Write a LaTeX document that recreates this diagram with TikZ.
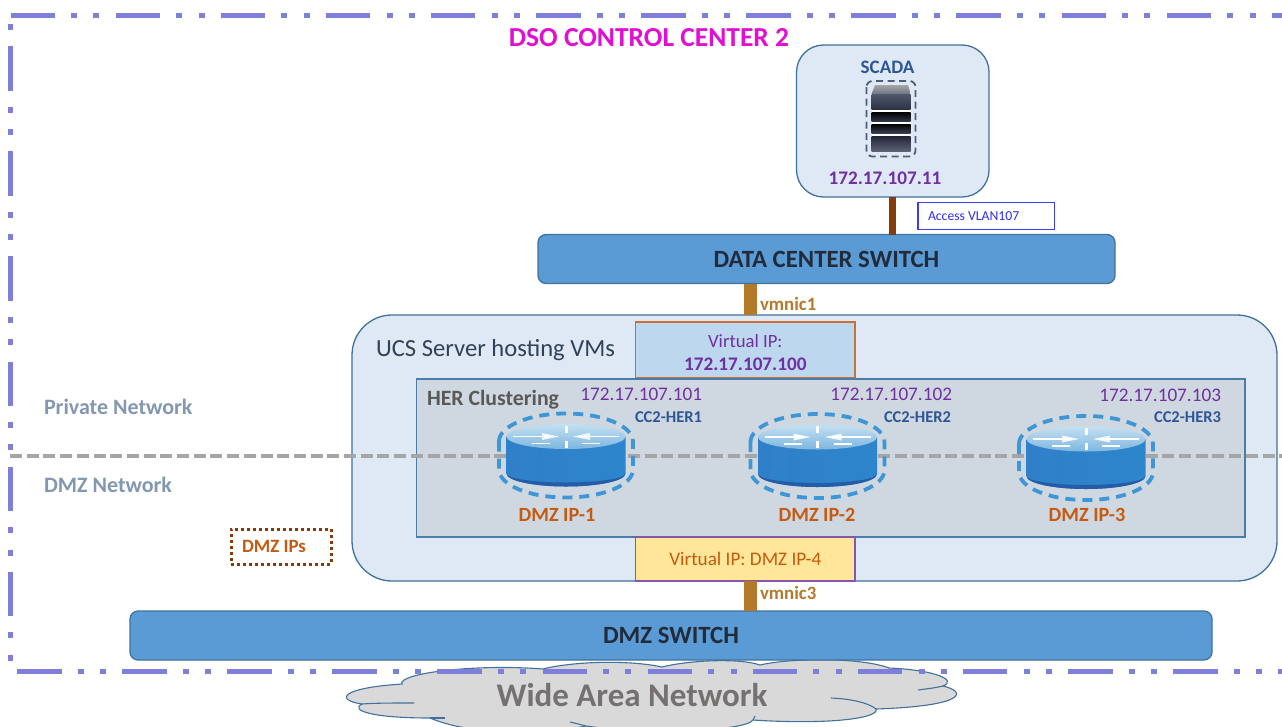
\documentclass[tikz,border=0pt]{standalone}
\usepackage{fontspec}
\setmainfont{Carlito}
\newcommand\fsz[1]{\fontsize{#1}{#1}\selectfont}
\definecolor{edgeblue}{HTML}{41719C}
\definecolor{boxfill}{HTML}{DEE9F5}
\definecolor{switchblue}{HTML}{5B9BD5}
\definecolor{borderpurple}{HTML}{7F7FDB}
\definecolor{purpletext}{HTML}{7030A0}
\definecolor{orangetext}{HTML}{C55A11}
\definecolor{navytext}{HTML}{2F5597}
\definecolor{nicbrown}{HTML}{B27A2A}
\definecolor{darkbrown}{HTML}{843C0C}
\definecolor{hergrey}{HTML}{CFD8E0}
\definecolor{netgrey}{HTML}{8497B0}
\definecolor{ringblue}{HTML}{3E96D6}
\definecolor{rsideL}{HTML}{2F80C8}
\definecolor{rsideM}{HTML}{5AA0D8}
\definecolor{rsideR}{HTML}{2D85CC}
\definecolor{rbase}{HTML}{245CA8}
\definecolor{rtopA}{HTML}{C4E0F2}
\definecolor{rtopB}{HTML}{7DB6E0}
\definecolor{magentatitle}{HTML}{E10FD4}
\definecolor{srvA}{HTML}{6E7487}
\definecolor{srvB}{HTML}{50586E}
\definecolor{srvC}{HTML}{2D3244}
\definecolor{srvD}{HTML}{32374B}
\definecolor{srvE}{HTML}{3C4155}
\definecolor{srvF}{HTML}{232637}
\definecolor{srvG}{HTML}{5F6478}
\definecolor{srvdash}{HTML}{505C78}
\definecolor{vlanblue}{HTML}{3C3CF5}
\definecolor{vlantext}{HTML}{2D2DEB}
\definecolor{ucstext}{HTML}{324155}
\definecolor{vipedge}{HTML}{C8703A}
\definecolor{vipfill}{HTML}{BDD7EE}
\definecolor{heredge}{HTML}{4C7DA8}
\definecolor{vipdedge}{HTML}{8A55A8}
\definecolor{vipdfill}{HTML}{FFE699}
\definecolor{switchtext}{HTML}{222B3A}
\definecolor{wantext}{HTML}{767171}
\tikzset{
  x=1pt,y=-1pt,
  lab/.style={inner sep=0pt,outer sep=0pt},
  boxshape/.style={draw,inner sep=0pt,outer sep=0pt,line width=1.3pt},
  roundbox/.style={boxshape,draw=edgeblue,fill=boxfill},
  switchbox/.style={boxshape,draw=edgeblue,fill=switchblue,rounded corners=8pt,text=switchtext,font=\bfseries\fsz{24.8}},
  nicline/.style={draw=nicbrown,line width=13.5pt},
  borderline/.style={draw=borderpurple,line width=5.5pt,dash pattern=on 44.5pt off 16.2pt on 6pt off 16.2pt on 6pt off 16.2pt},
  hername/.style={lab,text=navytext,font=\bfseries\fsz{16.5},anchor=east},
  herip/.style={lab,text=purpletext,font=\fsz{19.2},anchor=east},
  dmzip/.style={lab,text=orangetext,font=\bfseries\fsz{20.2}},
  ringpath/.style={draw=ringblue,line width=3.8pt,dash pattern=on 10pt off 7pt},
  routerpic/.pic={
    \shade[left color=rsideL,middle color=rsideM,right color=rsideR]
      (-59.5,-19) -- (-59.5,18) arc (180:0:59.5 and 13) -- (59.5,-19) -- cycle;
    \fill[rbase] (-59.5,18) arc (180:0:59.5 and 13) arc (0:180:59.5 and 9) -- cycle;
    \shade[top color=rtopA,bottom color=rtopB] (0,-19) ellipse (59.5 and 12.5);
    \draw[white,line width=1.8pt] (-53,-19) -- (-14,-19) (14,-19) -- (53,-19) (-34,-12) -- (-16,-12) (16,-12) -- (34,-12);
    \draw[white,line width=3pt] (0,-30) -- (0,-23) (0,-15) -- (0,-8);
    \fill[white,opacity=.85] (-24,-22.5) -- (-7,-19) -- (-24,-15.5) -- cycle (24,-22.5) -- (7,-19) -- (24,-15.5) -- cycle;
    \draw[ringpath] (-67,-14) arc (180:360:67 and 28) -- (67,14) arc (0:180:67 and 28) -- cycle;
  }
}
\begin{document}
\begin{tikzpicture}
\useasboundingbox (0,0) rectangle (1282,726);
\fill[white] (0,0) rectangle (1282,726);

% cloud
\begin{scope}[draw=edgeblue,line width=1.1pt]
\filldraw[fill=black!15]
  (402,682) .. controls (408,672) and (480,664) .. (543,669)
  .. controls (575,661) and (630,660) .. (662,667)
  .. controls (690,660) and (740,658) .. (760,665)
  .. controls (790,658) and (860,657) .. (889,668)
  .. controls (935,670) and (958,680) .. (943,686)
  .. controls (968,692) and (965,706) .. (876,709)
  .. controls (880,718) and (830,725) .. (753,720)
  .. controls (745,732) and (640,734) .. (586,726)
  .. controls (540,736) and (470,735) .. (430,718)
  .. controls (370,718) and (350,710) .. (362,704)
  .. controls (335,700) and (340,688) .. (402,684) -- cycle;
\draw (414,703) .. controls (390,703) and (375,703) .. (362,704);
\draw (943,686) .. controls (935,688) and (925,689) .. (918,690);
\draw (831,698) .. controls (855,699) and (870,704) .. (876,709);
\draw (570,722) .. controls (575,723) and (582,725) .. (586,726);
\draw (753,720) -- (755,716);
\draw (430,718) .. controls (435,718) and (440,718) .. (445,718);
\end{scope}
\node[lab,text=wantext,font=\bfseries\fsz{33}] (wan) at (632,695) {Wide Area Network};

% network border
\draw[borderline] (10.5,15.5) -- (1282,15.5);
\draw[borderline,dash phase=82.9pt] (10.5,24) -- (10.5,662);
\draw[borderline] (17,671.5) -- (1282,671.5);
\node[lab,text=magentatitle,font=\bfseries\fsz{27.5}] (title) at (649,38) {DSO CONTROL CENTER 2};

% SCADA
\node[roundbox,rounded corners=27pt,minimum width=192.5pt,minimum height=152pt] (scada) at (892.8,121) {};
\node[lab,text=navytext,font=\bfseries\fsz{19}] (scadalab) at (887.5,67) {SCADA};
\node[lab,text=purpletext,font=\bfseries\fsz{19.2}] (scadaip) at (885,178) {172.17.107.11};
\fill[white] (871.5,105) rectangle (910.7,140);
\shade[top color=black!35,bottom color=srvA] (875,85) -- (908,85) -- (910.7,94) -- (871.5,94) -- cycle;
\shade[top color=srvB,bottom color=srvC] (871.5,94) rectangle (910.7,109.5);
\shade[top color=black,bottom color=srvD] (871.5,112) rectangle (910.7,121.5);
\shade[top color=black,bottom color=srvE] (871.5,124) rectangle (910.7,133.5);
\shade[top color=srvF,bottom color=srvG] (871.5,136.5) rectangle (910.7,151.5);
\draw[draw=srvdash,line width=1.8pt,dash pattern=on 7pt off 4.5pt,rounded corners=6pt] (866.5,81) rectangle (915.5,156.5);

\node[boxshape,draw=vlanblue,fill=white,minimum width=136.5pt,minimum height=27pt,line width=1.5pt,anchor=north west] (vlan) at (917.8,202.5) {};
\node[lab,text=vlantext,font=\fsz{13.7},anchor=west] (vlanlab) at (928,216) {Access VLAN107};

% data centre switch
\node[switchbox,minimum width=577pt,minimum height=49pt] (dcs) at (826.5,259) {DATA CENTER SWITCH};
\draw[draw=darkbrown,line width=6.8pt] (scada.south) -- (scada.south |- dcs.north);

% UCS
\coordinate (nicx) at (750.3,0);
\node[roundbox,rounded corners=40pt,minimum width=925pt,minimum height=266pt] (ucs) at (814.5,448) {};
\draw[nicline] (nicx |- dcs.south) -- (nicx |- ucs.north);
\node[lab,text=nicbrown,font=\bfseries\fsz{18.8},anchor=west] (nic1) at (760,304) {vmnic1};
\node[lab,text=ucstext,font=\fsz{24.6},anchor=west] (ucslab) at (376,350) {UCS Server hosting VMs};
\node[boxshape,draw=vipedge,line width=1.8pt,fill=vipfill,minimum width=219.5pt,minimum height=55.5pt,text=purpletext,align=center,font=\fontsize{18.7}{23}\selectfont] (vip) at (745.3,350) {\rule{0pt}{19pt}Virtual IP:\\\fontsize{19.2}{23}\selectfont\bfseries 172.17.107.100};

% HER
\node[boxshape,draw=heredge,line width=1.5pt,fill=hergrey,minimum width=828.5pt,minimum height=158pt,anchor=north west] (her) at (416.5,379) {};
\node[lab,text=black!65,font=\bfseries\fsz{21.8},anchor=west] (herlab) at (427,400) {HER Clustering};
\draw[draw=black!35,line width=4pt,dash pattern=on 12pt off 4.7pt] (10,455.5) -- (1282,455.5);

\path (566,455.5) pic {routerpic};
\path (817.5,456) pic {routerpic};
\path (1086,458) pic {routerpic};

\node[herip] (ip1) at (702,394) {172.17.107.101};
\node[herip] (ip2) at (952,394) {172.17.107.102};
\node[herip] (ip3) at (1221,395) {172.17.107.103};
\node[hername] (n1) at (702,417) {CC2-HER1};
\node[hername] (n2) at (951,417) {CC2-HER2};
\node[hername] (n3) at (1221,417) {CC2-HER3};
\node[dmzip] (d1) at (557,515) {DMZ IP-1};
\node[dmzip] (d2) at (817,515) {DMZ IP-2};
\node[dmzip] (d3) at (1087,515) {DMZ IP-3};

\node[boxshape,draw=vipdedge,line width=1.6pt,fill=vipdfill,minimum width=219.5pt,minimum height=43.5pt,text=orangetext,font=\fsz{19.2}] (vipd) at (745.3,559) {Virtual IP: DMZ IP-4};

% DMZ switch
\node[switchbox,minimum width=1082pt,minimum height=49pt] (dmzs) at (671,635.5) {DMZ SWITCH};
\draw[nicline] (nicx |- ucs.south) -- (nicx |- dmzs.north);
\node[lab,text=nicbrown,font=\bfseries\fsz{18.8},anchor=west] (nic3) at (760,593) {vmnic3};

% zones
\node[lab,text=netgrey,font=\bfseries\fsz{22},anchor=west] (priv) at (44,407) {Private Network};
\node[lab,text=netgrey,font=\bfseries\fsz{22},anchor=west] (dmzn) at (44,485) {DMZ Network};
\node[boxshape,draw=darkbrown,line width=3pt,dash pattern=on 3pt off 3pt,minimum width=100pt,minimum height=35pt,anchor=north west] (ipsbox) at (231,529) {};
\node[lab,text=orangetext,font=\bfseries\fsz{18.8},anchor=west] (ips) at (242,546.5) {DMZ IPs};
\end{tikzpicture}
\end{document}
